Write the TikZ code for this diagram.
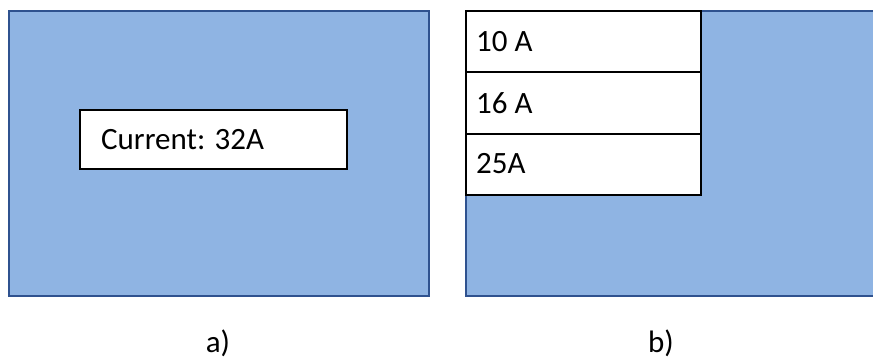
\documentclass[tikz,border=0pt]{standalone}
\usepackage{fontspec}
\setmainfont{Carlito}
\definecolor{panelfill}{HTML}{8FB4E3}
\definecolor{paneledge}{HTML}{2F528F}
\begin{document}
\begin{tikzpicture}[x=1pt,y=-1pt,
  panel/.style={fill=panelfill,draw=paneledge,line width=2.2pt},
  whitebox/.style={fill=white,draw=black,line width=1.5pt},
  txt/.style={font=\fontsize{31}{36}\selectfont,anchor=west,inner sep=0pt},
  captxt/.style={font=\fontsize{31}{36}\selectfont,inner sep=0pt}]
\useasboundingbox (0,0) rectangle (873,359);
\begin{scope}
\clip (0,0) rectangle (873,359);
\draw[panel] (9,11) rectangle (429,296);
\draw[panel] (466,11) rectangle (880,296);
\end{scope}
\draw[whitebox] (80,110) rectangle (347,169);
\node[txt] (cur) at (101,140) {Current: 32A};
\draw[whitebox] (466,11) rectangle (701,72);
\draw[whitebox] (466,72) rectangle (701,134);
\draw[whitebox] (466,134) rectangle (701,195);
\node[txt] (o1) at (476,42) {10 A};
\node[txt] (o2) at (476,103) {16 A};
\node[txt] (o3) at (476,164) {25A};
\node[captxt] (la) at (218,343) {a)};
\node[captxt] (lb) at (661,343) {b)};
\end{tikzpicture}
\end{document}
